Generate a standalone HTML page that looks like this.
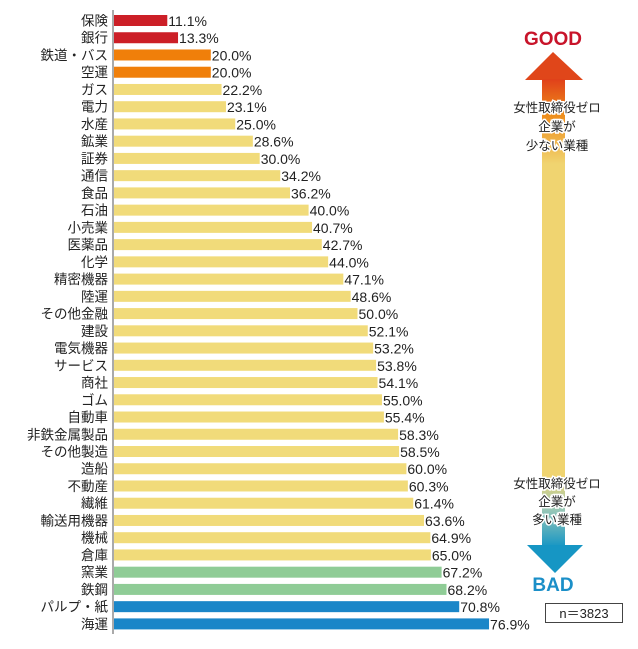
<!DOCTYPE html>
<html><head><meta charset="utf-8"><style>
body{margin:0;background:#fff;width:638px;height:644px;overflow:hidden}
svg text{font-family:"Liberation Sans","Noto Sans CJK JP",sans-serif}
</style></head><body>
<svg width="638" height="644">
<defs>
<linearGradient id="up" x1="0" y1="0" x2="0" y2="1"><stop offset="0" stop-color="#e0401a"/><stop offset="0.2" stop-color="#ee8a18"/><stop offset="0.5" stop-color="#f0d470"/><stop offset="1" stop-color="#f0d470"/></linearGradient>
<linearGradient id="dn" x1="0" y1="0" x2="0" y2="1"><stop offset="0" stop-color="#f0d470"/><stop offset="0.45" stop-color="#9cc9b6"/><stop offset="1" stop-color="#1696c4"/></linearGradient>
</defs>
<g id="bars"></g>
<line x1="113" y1="10" x2="113" y2="634" stroke="#555" stroke-width="1"/>
<g>
<text x="553" y="45" text-anchor="middle" font-size="19" font-weight="bold" fill="#c8142a">GOOD</text>
<polygon points="553,52 583,80 525,80" fill="#e0461a"/>
<rect x="542" y="79" width="23" height="170" fill="url(#up)"/>
<rect x="542" y="248" width="23" height="230" fill="#f0d470"/>
<rect x="542" y="477" width="23" height="70" fill="url(#dn)"/>
<polygon points="527,545 583,545 555,573" fill="#1696c4"/>
<text x="553" y="591" text-anchor="middle" font-size="19" font-weight="bold" fill="#1b8fc8">BAD</text>
<g font-size="12.5" fill="#222" text-anchor="middle" stroke="#fff" stroke-width="3" paint-order="stroke">
<text x="557" y="112">女性取締役ゼロ</text><text x="557" y="131">企業が</text><text x="557" y="150">少ない業種</text>
<text x="557" y="488">女性取締役ゼロ</text><text x="557" y="506">企業が</text><text x="557" y="524">多い業種</text>
</g>
</g>
<rect x="545.5" y="603.5" width="77" height="19" fill="#fff" stroke="#444"/>
<text x="584" y="618" text-anchor="middle" font-size="13" fill="#222">n＝3823</text>
</svg>
<script>
const categories=["保険","銀行","鉄道・バス","空運","ガス","電力","水産","鉱業","証券","通信","食品","石油","小売業","医薬品","化学","精密機器","陸運","その他金融","建設","電気機器","サービス","商社","ゴム","自動車","非鉄金属製品","その他製造","造船","不動産","繊維","輸送用機器","機械","倉庫","窯業","鉄鋼","パルプ・紙","海運"];
const values=[11.1,13.3,20.0,20.0,22.2,23.1,25.0,28.6,30.0,34.2,36.2,40.0,40.7,42.7,44.0,47.1,48.6,50.0,52.1,53.2,53.8,54.1,55.0,55.4,58.3,58.5,60.0,60.3,61.4,63.6,64.9,65.0,67.2,68.2,70.8,76.9];
const colorGroups=["red","red","orange","orange","yellow","yellow","yellow","yellow","yellow","yellow","yellow","yellow","yellow","yellow","yellow","yellow","yellow","yellow","yellow","yellow","yellow","yellow","yellow","yellow","yellow","yellow","yellow","yellow","yellow","yellow","yellow","yellow","green","green","blue","blue"];
const palette={red:"#cc1f27",orange:"#f07f0a",yellow:"#f1db7a",green:"#8fcc96",blue:"#1a86c8"};
const x=v=>113+v*4.89, y=i=>20.5+i*17.24;
const g=document.getElementById('bars'),NS="http://www.w3.org/2000/svg";
categories.forEach((c,i)=>{
 const r=document.createElementNS(NS,'rect');
 r.setAttribute('x',114);r.setAttribute('y',y(i)-5.5);r.setAttribute('width',x(values[i])-114);r.setAttribute('height',11);r.setAttribute('fill',palette[colorGroups[i]]);
 
 
 g.appendChild(r);
 const l=document.createElementNS(NS,'text');
 l.setAttribute('x',108);l.setAttribute('y',y(i)+5);l.setAttribute('text-anchor','end');l.setAttribute('font-size','13.5');l.setAttribute('fill','#222');l.textContent=c;
 
 
 g.appendChild(l);
 const t=document.createElementNS(NS,'text');
 t.setAttribute('x',x(values[i])+1);t.setAttribute('y',y(i)+5.5);t.setAttribute('font-size','14');t.setAttribute('fill','#222');t.textContent=values[i].toFixed(1)+'%';
 
 
 g.appendChild(t);
});
</script>
</body></html>
